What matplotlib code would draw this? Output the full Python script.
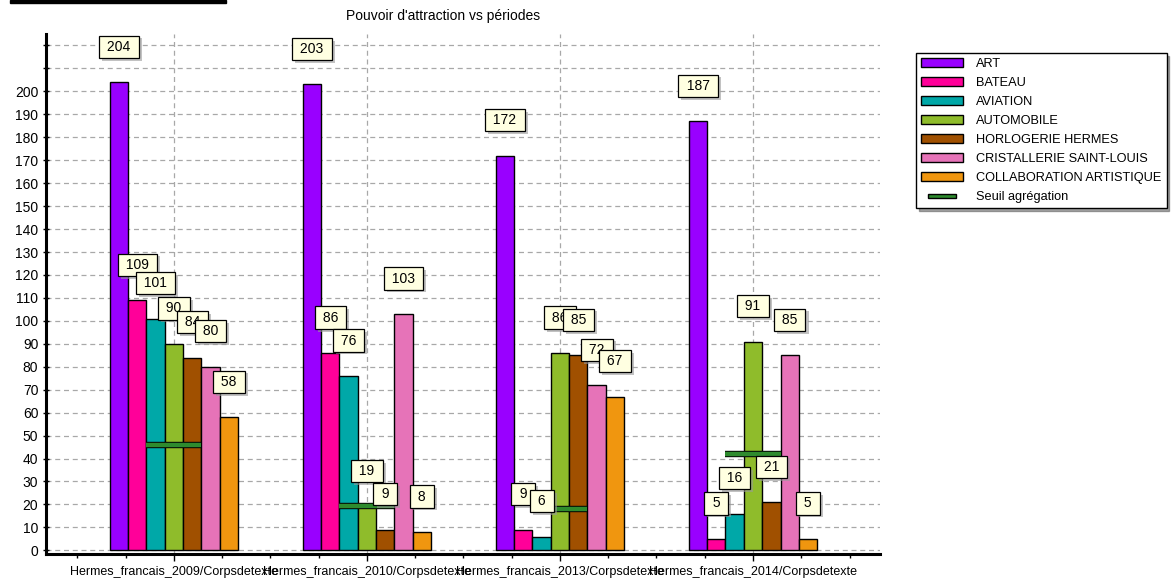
import numpy as np
import matplotlib
matplotlib.use("Agg")
import matplotlib.pyplot as plt
import matplotlib.patheffects as pe
from matplotlib.patches import Rectangle, Patch

plt.rcParams['font.family'] = ['Liberation Sans', 'DejaVu Sans']

# data
periods = ['Hermes_francais_2009/Corpsdetexte', 'Hermes_francais_2010/Corpsdetexte',
           'Hermes_francais_2013/Corpsdetexte', 'Hermes_francais_2014/Corpsdetexte']
series = ['ART', 'BATEAU', 'AVIATION', 'AUTOMOBILE', 'HORLOGERIE HERMES',
          'CRISTALLERIE SAINT-LOUIS', 'COLLABORATION ARTISTIQUE']
art = [204, 203, 172, 187]
bateau = [109, 86, 9, 5]
aviation = [101, 76, 6, 16]
automobile = [90, 19, 86, 91]
horlogerie = [84, 9, 85, 21]
cristallerie = [80, 103, 72, 85]
collaboration = [58, 8, 67, 5]
seuil = [46, 19.5, 18, 42]

values = [art, bateau, aviation, automobile, horlogerie, cristallerie, collaboration]
colors = ['#9900FF', '#FF0099', '#00A8A8', '#8FBC2B', '#A05000', '#E673B8', '#F0960F']
seuil_color = '#2E8B2E'

fig = plt.figure(figsize=(11.71, 5.79), dpi=100)
ax = fig.add_axes([46/1171, 25/579, (880-46)/1171, (554-34)/579])

x = np.arange(len(periods))
w = 0.095

handles = []
for i, (name, vals, c) in enumerate(zip(series, values, colors)):
    pos = x + (i - 3) * w
    b = ax.bar(pos, vals, width=w, color=c, edgecolor='black', linewidth=1, label=name, zorder=3)
    handles.append(b)
    for px, v in zip(pos, vals):
        # shadow box then label box
        ax.annotate(f" {v} ", (px, v), xytext=(2.2, 23.5), textcoords='offset points',
                    ha='center', va='center', fontsize=10, color='none', zorder=5,
                    bbox=dict(boxstyle='square,pad=0.3', fc='#9a9a9a', ec='none', alpha=0.6))
        ax.annotate(f" {v} ", (px, v), xytext=(0, 25.5), textcoords='offset points',
                    ha='center', va='center', fontsize=10, color='black', zorder=6,
                    bbox=dict(boxstyle='square,pad=0.3', fc='#FFFFE1', ec='black', lw=0.9))

ax.hlines(seuil, x - 1.5 * w, x + 1.5 * w, colors=seuil_color, linewidth=3.2, zorder=4,
          path_effects=[pe.Stroke(linewidth=4.6, foreground='black'), pe.Normal()])

ax.set_xlim(-0.663, 3.658)
ax.set_ylim(-1.6, 225)
ax.set_yticks(np.arange(0, 230, 10))
ax.set_yticklabels([str(t) if t <= 200 else '' for t in range(0, 230, 10)], fontsize=10)
ax.set_xticks(x)
ax.set_xticklabels(periods, fontsize=9)
ax.set_xticks(np.arange(-0.5, 3.6, 0.25), minor=True)
ax.tick_params(axis='y', direction='inout', length=5, width=1, pad=3)
ax.tick_params(axis='x', which='major', direction='out', length=5, width=1, pad=4)
ax.tick_params(axis='x', which='minor', direction='out', length=3, width=1)

ax.grid(True, axis='y', linestyle=(0, (4, 3)), color='#A8A8A8', linewidth=0.9, zorder=0)
ax.grid(True, axis='x', which='major', linestyle=(0, (4, 3)), color='#A8A8A8', linewidth=0.9, zorder=0)
for s in ['top', 'right']:
    ax.spines[s].set_visible(False)
ax.spines['left'].set_linewidth(2.2)
ax.spines['bottom'].set_linewidth(2.2)

fig.text(443/1171, 1 - 16/579, "Pouvoir d'attraction vs périodes", ha='center', va='center', fontsize=10)

seuil_handle = Patch(facecolor=seuil_color, edgecolor='black', linewidth=1)
labels = series + ['Seuil agrégation']
leg = fig.legend(handles + [seuil_handle], labels, loc='upper left',
                 bbox_to_anchor=(916/1171, 1 - 53/579), fontsize=9.2,
                 frameon=True, fancybox=False, shadow=True, edgecolor='black',
                 borderaxespad=0, handlelength=3.3, handleheight=0.7, handletextpad=1.0,
                 labelspacing=0.55, borderpad=0.4)
leg.get_frame().set_linewidth(1)
# make the threshold swatch thinner and shorter than the bar swatches
sp = leg.legend_handles[-1]
sp.set_height(sp.get_height() * 0.45)
sp.set_y(sp.get_y() + sp.get_height() * 0.6)
sp.set_x(sp.get_x() + 5)
sp.set_width(sp.get_width() - 10)

# black strip at top left of the screenshot
fig.patches.append(Rectangle((10/1171, 1 - 3/579), 216/1171, 3/579, transform=fig.transFigure,
                             color='black', zorder=10))

fig.savefig('out.png', dpi=100)
